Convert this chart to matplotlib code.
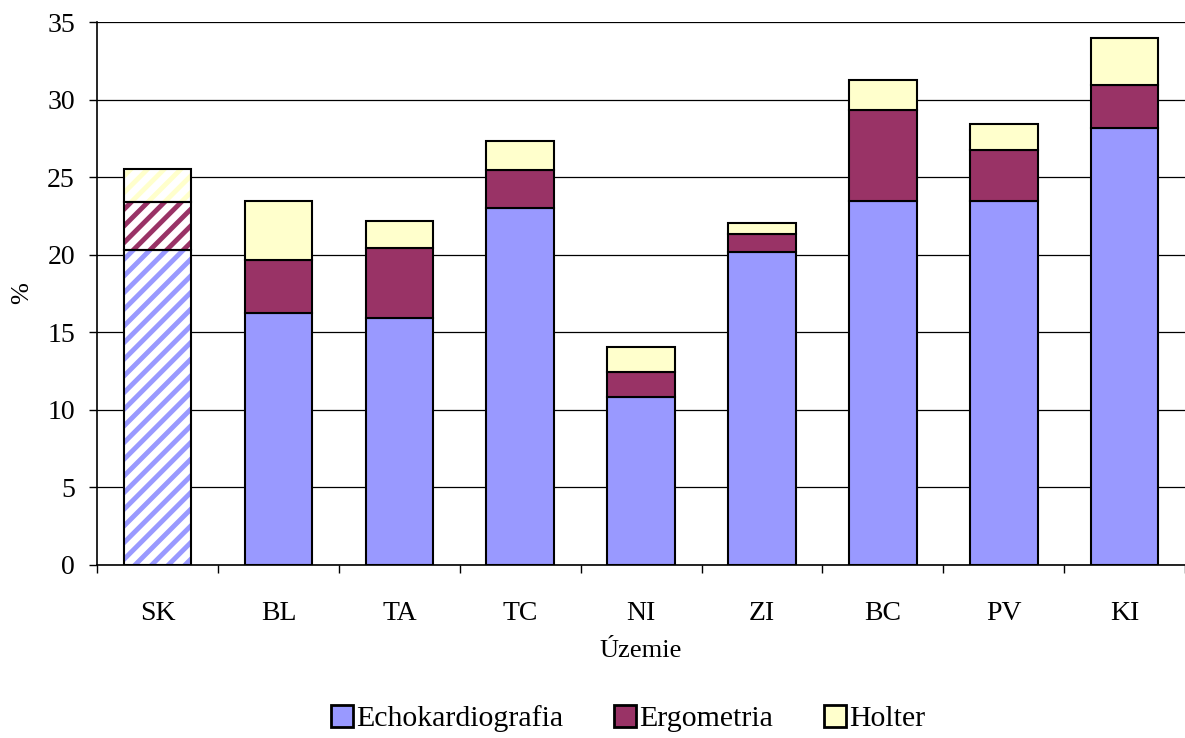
import numpy as np
import matplotlib.pyplot as plt

plt.rcParams['font.family'] = ['Liberation Serif', 'DejaVu Serif']
plt.rcParams['hatch.linewidth'] = 3.5

uzemie = ['SK', 'BL', 'TA', 'TC', 'NI', 'ZI', 'BC', 'PV', 'KI']
echo = [20.3, 16.25, 15.9, 23.0, 10.8, 20.2, 23.45, 23.45, 28.2]
ergo = [3.1, 3.4, 4.5, 2.45, 1.65, 1.15, 5.85, 3.3, 2.75]
holter = [2.1, 3.8, 1.8, 1.85, 1.6, 0.7, 1.95, 1.65, 3.0]

farby = ['#9999ff', '#993366', '#ffffcc']
nazvy = ['Echokardiografia', 'Ergometria', 'Holter']

fig = plt.figure(figsize=(11.85, 7.38), dpi=100)
ax = fig.add_axes([0.082, 0.235, 0.918, 0.735])

x = np.arange(len(uzemie))
w = 0.56
spodok = np.zeros(len(uzemie))
for hodnoty, farba, nazov in zip([echo, ergo, holter], farby, nazvy):
    h = np.array(hodnoty)
    # SK is drawn hatched, the rest solid
    ax.bar(x[1:], h[1:], w, bottom=spodok[1:], color=farba, edgecolor='black',
           linewidth=1.5, label=nazov, zorder=3)
    ax.bar(x[0], h[0], w, bottom=spodok[0], facecolor='white', edgecolor=farba,
           hatch='//', linewidth=0, zorder=3)
    ax.bar(x[0], h[0], w, bottom=spodok[0], fill=False, edgecolor='black',
           linewidth=1.5, zorder=4)
    spodok += h

ax.set_xlim(-0.5, len(uzemie) - 0.5)
ax.set_ylim(0, 35)
ax.set_yticks(range(0, 36, 5))
ax.set_xticks(x)
ax.set_xticklabels(uzemie)
ax.set_xticks(np.arange(-0.5, len(uzemie), 1), minor=True)
ax.tick_params(axis='x', which='major', length=0, pad=26, labelsize=20)
ax.tick_params(axis='x', which='minor', length=6, direction='out', width=1)
ax.tick_params(axis='y', length=6, direction='out', width=1, labelsize=20, pad=10)
ax.grid(axis='y', color='black', linewidth=0.9, zorder=0)
ax.set_axisbelow(True)
for s in ['top', 'right']:
    ax.spines[s].set_visible(False)
for s in ['left', 'bottom']:
    ax.spines[s].set_linewidth(1.2)

ax.set_xlabel('Územie', fontsize=19, labelpad=10)
ax.set_ylabel('%', fontsize=19, labelpad=10)

leg = fig.legend(loc='center', bbox_to_anchor=(0.53, 0.026), ncol=3, frameon=False,
                 fontsize=21.5, handlelength=0.75, handleheight=0.75, handletextpad=0.1,
                 columnspacing=1.7)
for p in leg.get_patches():
    p.set_linewidth(2)

fig.savefig('out.png', dpi=100)
